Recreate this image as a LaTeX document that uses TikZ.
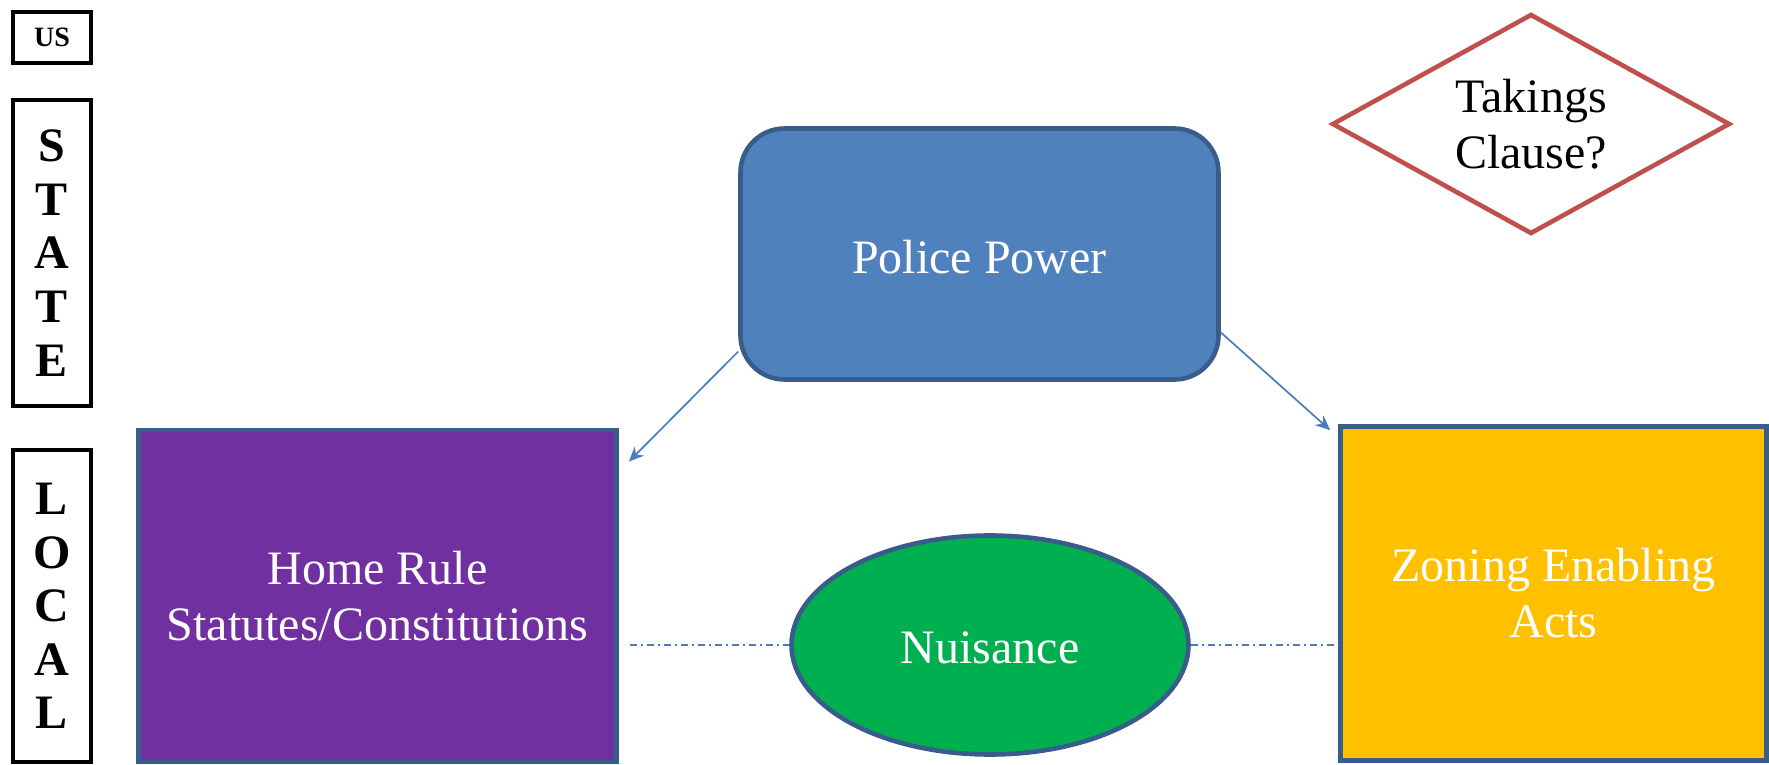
\documentclass[tikz,border=0pt]{standalone}
\usepackage{fontspec}
\setmainfont{Liberation Serif}
\usetikzlibrary{shapes.geometric,arrows.meta,calc}
\definecolor{ppfill}{HTML}{4F81BD}
\definecolor{edgeblue}{HTML}{385D8A}
\definecolor{hrfill}{HTML}{7030A0}
\definecolor{nufill}{HTML}{00B050}
\definecolor{znfill}{HTML}{FFC000}
\definecolor{dmred}{HTML}{C0504D}
\definecolor{arrblue}{HTML}{4A7EBB}
\begin{document}
\begin{tikzpicture}[x=0.5pt,y=-0.5pt,
  big/.style={font=\fontsize{24}{28}\selectfont, align=center, inner sep=0pt},
  shape1/.style={big, draw=edgeblue, line width=2.3pt, text=white},
  lvl/.style={draw=black, line width=2pt, inner sep=0pt, font=\bfseries},
  arr/.style={draw=arrblue, line width=0.85pt, -{Stealth[length=7.5pt,width=6.5pt]}},
  dd/.style={draw=arrblue, line width=0.9pt, dash pattern=on 3.5pt off 2pt on 1pt off 2pt}]
\useasboundingbox (0,0) rectangle (1769,765);
% level labels
\node[lvl, minimum width=39pt, minimum height=25.5pt, font=\bfseries\fontsize{14}{16}\selectfont] (us) at (52,37.5) {US};
\node[lvl, minimum width=39pt, minimum height=153pt, align=center, font=\bfseries\fontsize{24}{26.8}\selectfont] (st) at (52,253) {S\\T\\A\\T\\E};
\node[lvl, minimum width=39pt, minimum height=156pt, align=center, font=\bfseries\fontsize{24}{26.8}\selectfont] (lc) at (52,606) {L\\O\\C\\A\\L};
% main shapes
\node[shape1, fill=ppfill, rounded corners=22pt, minimum width=239pt, minimum height=125.5pt, text height=19.5pt, text depth=0pt] (pp) at (979.5,254) {Police Power};
\node[shape1, fill=hrfill, minimum width=239pt, minimum height=166pt] (hr) at (377.5,596) {Home Rule\\Statutes/Constitutions};
\node[shape1, fill=znfill, minimum width=213pt, minimum height=167pt] (zn) at (1553.5,593.5) {Zoning Enabling\\Acts};
\node[shape1, fill=nufill, ellipse, minimum width=198.5pt, minimum height=109.5pt, text height=18pt, text depth=0pt] (nu) at (990,645) {Nuisance};
\node[big, diamond, draw=dmred, line width=2.3pt, aspect=1.79, minimum width=199pt, minimum height=110pt, text=black] (tk) at (1531,124) {Takings\\Clause?};
% connectors
\draw[arr] (pp.202.8) -- ($(hr.north east)+(10,34)$);
\draw[arr] (pp.-18.6) -- ($(zn.north west)+(-8,6)$);
\coordinate (d1) at ($(hr.east |- nu.west)+(11,0)$);
\draw[dd] (d1) -- (nu.west);
\draw[dd] (nu.east) -- (zn.west |- nu.east);
\end{tikzpicture}
\end{document}
